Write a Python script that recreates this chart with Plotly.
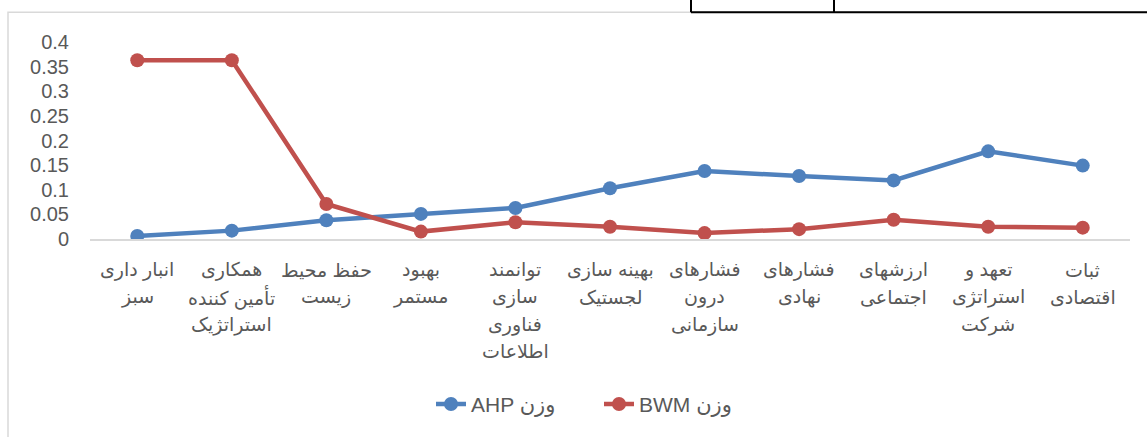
import plotly.graph_objects as go

categories = [
    "انبار داری<br>سبز",
    "همکاری<br>تأمین کننده<br>استراتژیک",
    "حفظ محیط<br>زیست",
    "بهبود<br>مستمر",
    "توانمند<br>سازی<br>فناوری<br>اطلاعات",
    "بهینه سازی<br>لجستیک",
    "فشارهای<br>درون<br>سازمانی",
    "فشارهای<br>نهادی",
    "ارزشهای<br>اجتماعی",
    "تعهد و<br>استراتژی<br>شرکت",
    "ثبات<br>اقتصادی",
]
ahp_weights = [0.006, 0.017, 0.038, 0.051, 0.063, 0.103, 0.138, 0.128, 0.119, 0.178, 0.149]
bwm_weights = [0.363, 0.363, 0.071, 0.015, 0.034, 0.025, 0.012, 0.020, 0.039, 0.025, 0.023]
series_names = ["AHP وزن", "BWM وزن"]
y_ticks = [0, 0.05, 0.1, 0.15, 0.2, 0.25, 0.3, 0.35, 0.4]
y_tick_text = ["0", "0.05", "0.1", "0.15", "0.2", "0.25", "0.3", "0.35", "0.4"]

BLUE = "#4F81BD"
RED = "#C0504D"
GREY_TXT = "#595959"
FONT = "Liberation Sans, DejaVu Sans, Arial, sans-serif"

fig = go.Figure()
fig.add_trace(go.Scatter(x=categories, y=ahp_weights, name=series_names[0], mode="lines+markers",
                         line=dict(color=BLUE, width=4.5), marker=dict(size=14, color=BLUE)))
fig.add_trace(go.Scatter(x=categories, y=bwm_weights, name=series_names[1], mode="lines+markers",
                         line=dict(color=RED, width=4.5), marker=dict(size=14, color=RED)))

L, R, T, B = 90, 17, 42, 196
W, H = 1147, 437
pw, ph = W - L - R, H - T - B

def px(xp):
    return (xp - L) / pw

def py(yp):
    return (H - B - yp) / ph

shapes = [
    dict(type="rect", xref="paper", yref="paper", x0=px(8), x1=px(1160), y0=py(450), y1=py(12),
         line=dict(color="#D9D9D9", width=1.5), layer="below"),
    dict(type="line", xref="paper", yref="paper", x0=px(691), x1=px(1150), y0=py(12), y1=py(12),
         line=dict(color="black", width=2)),
    dict(type="line", xref="paper", yref="paper", x0=px(691), x1=px(691), y0=py(-2), y1=py(12),
         line=dict(color="black", width=2)),
    dict(type="line", xref="paper", yref="paper", x0=px(834), x1=px(834), y0=py(-2), y1=py(12),
         line=dict(color="black", width=2)),
]

# category labels drawn line by line for Excel-like line spacing
annotations = []
for cat in categories:
    for i, line in enumerate(cat.split("<br>")):
        annotations.append(dict(x=cat, y=0, xref="x", yref="paper", text=line, showarrow=False,
                                xanchor="center", yanchor="middle", yshift=-(31 + 27.3 * i),
                                font=dict(size=19, color=GREY_TXT, family=FONT)))

fig.update_layout(
    width=W, height=H,
    margin=dict(l=L, r=R, t=T, b=B),
    paper_bgcolor="white", plot_bgcolor="white",
    font=dict(family=FONT, color=GREY_TXT),
    showlegend=True,
    legend=dict(orientation="h", x=px(431), xanchor="left", y=py(408), yanchor="middle",
                font=dict(size=21, color=GREY_TXT, family=FONT), entrywidth=123, entrywidthmode="pixels",
                traceorder="normal"),
    xaxis=dict(type="category", range=[-0.5, len(categories) - 0.5], showgrid=False, showline=True,
               linecolor="#D9D9D9", linewidth=1.5,
               ticks="", showticklabels=False, zeroline=False, fixedrange=True),
    yaxis=dict(range=[0, 0.4], tickvals=y_ticks, ticktext=y_tick_text, showgrid=False,
               showline=False, zeroline=False, ticks="", tickfont=dict(size=20, color=GREY_TXT, family=FONT),
               ticklabelstandoff=20),
    shapes=shapes,
    annotations=annotations,
)

fig.write_html("out.html", config={"displayModeBar": False},
               post_script="document.body.style.margin='0';")
